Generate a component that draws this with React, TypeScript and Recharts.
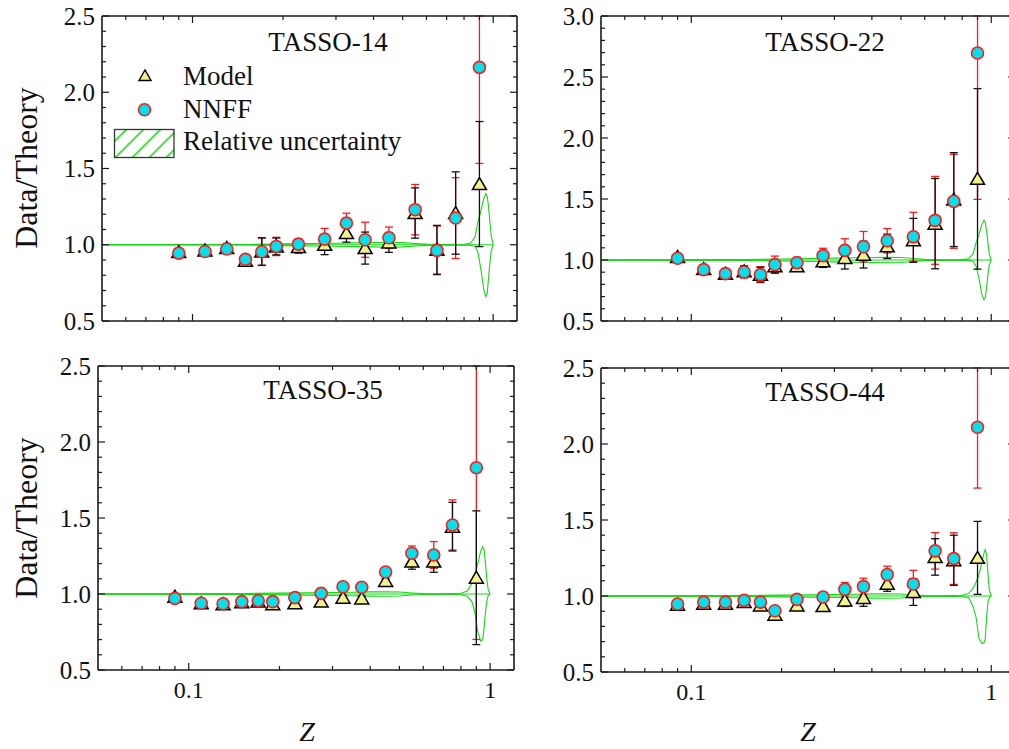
import React from 'react';
import { ComposedChart, Scatter, Line, XAxis, YAxis, ErrorBar } from 'recharts';

// ---------- data ----------
const zValues = [0.09, 0.11, 0.13, 0.15, 0.17, 0.19, 0.225, 0.275, 0.325, 0.375, 0.45, 0.55, 0.65, 0.75, 0.9];

const nnff14 = [0.945, 0.956, 0.972, 0.904, 0.954, 0.989, 1.004, 1.037, 1.142, 1.033, 1.046, 1.23, 0.963, 1.175, 2.163];
const nnffErr14 = [0.012, 0.012, 0.015, 0.03, 0.09, 0.06, 0.033, 0.07, 0.065, 0.115, 0.07, 0.165, 0.16, 0.265, 0.63];
const model14 = [0.952, 0.963, 0.978, 0.895, 0.956, 0.989, 0.985, 1.0, 1.077, 0.978, 1.015, 1.208, 0.967, 1.208, 1.398];
const modelErr14 = [0.02, 0.02, 0.03, 0.025, 0.09, 0.055, 0.04, 0.065, 0.06, 0.105, 0.065, 0.165, 0.16, 0.27, 0.41];

const nnff22 = [1.014, 0.921, 0.888, 0.902, 0.88, 0.962, 0.978, 1.036, 1.079, 1.109, 1.158, 1.191, 1.325, 1.481, 2.697];
const nnffErr22 = [0.01, 0.015, 0.015, 0.05, 0.065, 0.07, 0.045, 0.06, 0.095, 0.125, 0.1, 0.2, 0.36, 0.385, 1.2];
const model22 = [1.025, 0.926, 0.888, 0.907, 0.88, 0.948, 0.948, 0.989, 1.016, 1.044, 1.112, 1.161, 1.298, 1.495, 1.665];
const modelErr22 = [0.01, 0.015, 0.015, 0.045, 0.06, 0.055, 0.03, 0.05, 0.09, 0.11, 0.1, 0.18, 0.37, 0.385, 0.74];

const nnff35 = [0.971, 0.939, 0.936, 0.95, 0.956, 0.95, 0.976, 1.004, 1.048, 1.044, 1.145, 1.268, 1.257, 1.454, 1.831];
const nnffErr35 = [0.01, 0.012, 0.012, 0.012, 0.015, 0.015, 0.02, 0.02, 0.015, 0.015, 0.015, 0.048, 0.088, 0.165, 1.13];
const model35 = [0.982, 0.939, 0.932, 0.945, 0.95, 0.932, 0.939, 0.95, 0.976, 0.971, 1.086, 1.213, 1.213, 1.443, 1.107];
const modelErr35 = [0.01, 0.012, 0.012, 0.012, 0.012, 0.015, 0.02, 0.02, 0.015, 0.015, 0.015, 0.05, 0.07, 0.16, 0.44];

const nnff44 = [0.947, 0.96, 0.96, 0.971, 0.96, 0.903, 0.978, 0.993, 1.044, 1.062, 1.141, 1.079, 1.297, 1.246, 2.11];
const nnffErr44 = [0.01, 0.012, 0.012, 0.015, 0.02, 0.015, 0.02, 0.03, 0.045, 0.055, 0.055, 0.09, 0.12, 0.17, 0.4];
const model44 = [0.943, 0.949, 0.949, 0.96, 0.938, 0.877, 0.938, 0.934, 0.971, 0.987, 1.081, 1.026, 1.257, 1.235, 1.251];
const modelErr44 = [0.01, 0.012, 0.012, 0.015, 0.02, 0.015, 0.02, 0.03, 0.04, 0.055, 0.05, 0.088, 0.12, 0.165, 0.24];

// relative uncertainty band
const bandZ = [0.05, 0.15, 0.2, 0.25, 0.3, 0.35, 0.4, 0.45, 0.5, 0.55, 0.6, 0.7, 0.8, 0.84, 0.87, 0.89, 0.91, 0.93, 0.945, 0.955, 0.965, 0.975, 0.985, 1.0];
const bandHi14 = [1.002, 1.002, 1.006, 1.008, 1.01, 1.012, 1.014, 1.016, 1.014, 1.008, 1.004, 1.002, 1.003, 1.01, 1.05, 1.15, 1.22, 1.3, 1.335, 1.32, 1.25, 1.15, 1.06, 1.0];
const bandLo14 = [0.998, 0.998, 0.994, 0.992, 0.99, 0.988, 0.986, 0.984, 0.986, 0.992, 0.996, 0.998, 0.997, 0.997, 0.99, 0.95, 0.84, 0.71, 0.66, 0.68, 0.78, 0.88, 0.96, 1.0];
const bandHi22 = [1.002, 1.003, 1.008, 1.012, 1.015, 1.018, 1.02, 1.022, 1.02, 1.012, 1.005, 1.002, 1.003, 1.01, 1.05, 1.14, 1.21, 1.29, 1.325, 1.31, 1.24, 1.14, 1.05, 1.0];
const bandLo22 = [0.998, 0.997, 0.992, 0.988, 0.985, 0.982, 0.98, 0.978, 0.98, 0.988, 0.995, 0.998, 0.997, 0.997, 0.99, 0.95, 0.85, 0.72, 0.675, 0.69, 0.78, 0.88, 0.96, 1.0];
const bandHi35 = [1.002, 1.003, 1.006, 1.008, 1.01, 1.012, 1.014, 1.015, 1.013, 1.007, 1.003, 1.002, 1.005, 1.02, 1.07, 1.13, 1.2, 1.28, 1.31, 1.29, 1.2, 1.1, 1.03, 1.0];
const bandLo35 = [0.998, 0.997, 0.994, 0.992, 0.99, 0.988, 0.986, 0.985, 0.987, 0.993, 0.997, 0.998, 0.995, 0.985, 0.95, 0.88, 0.75, 0.69, 0.7, 0.78, 0.88, 0.95, 0.99, 1.0];
const bandHi44 = [1.002, 1.003, 1.006, 1.008, 1.01, 1.012, 1.014, 1.015, 1.013, 1.007, 1.003, 1.002, 1.005, 1.016, 1.05, 1.09, 1.14, 1.22, 1.28, 1.305, 1.27, 1.15, 1.04, 1.0];
const bandLo44 = [0.998, 0.997, 0.994, 0.992, 0.99, 0.988, 0.986, 0.985, 0.987, 0.993, 0.997, 0.998, 0.995, 0.99, 0.93, 0.86, 0.72, 0.69, 0.69, 0.72, 0.86, 0.96, 0.99, 1.0];
const bandCentre = [1, 1, 1, 1, 1, 1, 1, 1, 1, 1, 1, 1, 1, 1, 1, 1, 1, 1, 1, 1, 1, 1, 1, 1];

// ticks
const xTicks = [0.06, 0.07, 0.08, 0.09, 0.1, 0.2, 0.3, 0.4, 0.5, 0.6, 0.7, 0.8, 0.9, 1];
const xMajor = [0.1, 1];
const yTicks25 = [0.5, 0.6, 0.7, 0.8, 0.9, 1.0, 1.1, 1.2, 1.3, 1.4, 1.5, 1.6, 1.7, 1.8, 1.9, 2.0, 2.1, 2.2, 2.3, 2.4, 2.5];
const yTicks30 = [0.5, 0.6, 0.7, 0.8, 0.9, 1.0, 1.1, 1.2, 1.3, 1.4, 1.5, 1.6, 1.7, 1.8, 1.9, 2.0, 2.1, 2.2, 2.3, 2.4, 2.5, 2.6, 2.7, 2.8, 2.9, 3.0];

// ---------- styling ----------
const FONT = "'Liberation Serif', 'Times New Roman', Times, serif";
const GREEN = '#16d816';
const FRAME = '#1a1a1a';
const RED = '#ff1a1a';
const CYAN = '#00e1ec';
const YELLOW = '#f6f08a';

const isYMajor = (v: number) => Math.abs(v * 2 - Math.round(v * 2)) < 1e-6;
const isXMajor = (v: number) => xMajor.some((m) => Math.abs(m - v) < 1e-9);

function makeTick(side: 'left' | 'right' | 'top' | 'bottom', showLabel: boolean) {
  return (props: any) => {
    const { x, y, payload } = props;
    const v = payload.value as number;
    const major = side === 'left' || side === 'right' ? isYMajor(v) : isXMajor(v);
    const len = major ? 7 : 4;
    let l: any;
    if (side === 'left') l = { x1: x, y1: y, x2: x + len, y2: y };
    else if (side === 'right') l = { x1: x, y1: y, x2: x - len, y2: y };
    else if (side === 'top') l = { x1: x, y1: y, x2: x, y2: y + len };
    else l = { x1: x, y1: y, x2: x, y2: y - len };
    let label = null;
    if (showLabel && major) {
      if (side === 'left') {
        label = (
          <text x={x - 7} y={y} dy="0.34em" textAnchor="end" style={{ fontFamily: FONT }} fontSize={25} fill="#111">
            {v.toFixed(1)}
          </text>
        );
      } else if (side === 'bottom') {
        label = (
          <text x={x} y={y + 28} textAnchor="middle" style={{ fontFamily: FONT }} fontSize={24} fill="#111">
            {v === 1 ? '1' : String(v)}
          </text>
        );
      }
    }
    return (
      <g>
        <line {...l} stroke={FRAME} strokeWidth={1.2} />
        {label}
      </g>
    );
  };
}

const TriangleShape = (p: any) => {
  const { cx, cy } = p;
  if (cx == null || cy == null) return <g />;
  return (
    <polygon
      points={`${cx},${cy - 6.5} ${cx - 7},${cy + 5.5} ${cx + 7},${cy + 5.5}`}
      fill={YELLOW}
      stroke="#000"
      strokeWidth={1.5}
    />
  );
};

const CircleShape = (p: any) => {
  const { cx, cy } = p;
  if (cx == null || cy == null) return <g />;
  return <circle cx={cx} cy={cy} r={6} fill={CYAN} stroke={RED} strokeWidth={1.6} />;
};

const EmptyShape = () => <g />;

type PanelProps = {
  left: number;
  top: number;
  width: number;
  height: number;
  margin: { top: number; left: number; right: number; bottom: number };
  yMax: number;
  yTicks: number[];
  showXLabels: boolean;
  model: number[];
  modelErr: number[];
  nnff: number[];
  nnffErr: number[];
  bandHi: number[];
  bandLo: number[];
};

function Panel(props: PanelProps) {
  const { left, top, width, height, margin, yMax, yTicks, showXLabels, model, modelErr, nnff, nnffErr, bandHi, bandLo } = props;
  // error bars end at the frame, as in the reference (the plot window clips them)
  const modelData = zValues.map((z, i) => ({ z, v: model[i], e: [modelErr[i], Math.min(modelErr[i], yMax - model[i])] }));
  const nnffData = zValues.map((z, i) => ({ z, v: nnff[i], e: [nnffErr[i], Math.min(nnffErr[i], yMax - nnff[i])] }));
  const bandData = bandZ.map((z, i) => ({ z, hi: bandHi[i], lo: bandLo[i], mid: bandCentre[i] }));
  const axisLine = { stroke: FRAME, strokeWidth: 1.6 };
  const xCommon = {
    dataKey: 'z',
    type: 'number' as const,
    scale: 'log' as const,
    domain: [0.05, 1.2],
    allowDataOverflow: true,
    ticks: xTicks,
    interval: 0,
    height: 1,
    tickSize: 0,
    tickMargin: 0,
    tickLine: false,
    axisLine,
  };
  const yCommon = {
    type: 'number' as const,
    domain: [0.5, yMax],
    allowDataOverflow: true,
    ticks: yTicks,
    interval: 0,
    width: 1,
    tickSize: 0,
    tickMargin: 0,
    tickLine: false,
    axisLine,
  };
  return (
    <div style={{ position: 'absolute', left, top }}>
      <ComposedChart width={width} height={height} margin={margin}>
        <XAxis xAxisId="b" orientation="bottom" {...xCommon} tick={makeTick('bottom', showXLabels)} />
        <XAxis xAxisId="t" orientation="top" {...xCommon} tick={makeTick('top', false)} />
        <YAxis yAxisId="l" orientation="left" {...yCommon} tick={makeTick('left', true)} />
        <YAxis yAxisId="r" orientation="right" {...yCommon} tick={makeTick('right', false)} />

        <Line xAxisId="b" yAxisId="l" data={bandData} dataKey="mid" stroke={GREEN} strokeWidth={1.2} dot={false} activeDot={false} isAnimationActive={false} />
        <Line xAxisId="b" yAxisId="l" data={bandData} dataKey="hi" stroke={GREEN} strokeWidth={1.1} dot={false} activeDot={false} isAnimationActive={false} />
        <Line xAxisId="b" yAxisId="l" data={bandData} dataKey="lo" stroke={GREEN} strokeWidth={1.1} dot={false} activeDot={false} isAnimationActive={false} />

        <Scatter xAxisId="b" yAxisId="l" data={nnffData} dataKey="v" shape={EmptyShape} isAnimationActive={false}>
          <ErrorBar dataKey="e" direction="y" width={4} stroke={RED} strokeWidth={1.3} />
        </Scatter>
        <Scatter xAxisId="b" yAxisId="l" data={modelData} dataKey="v" shape={TriangleShape} isAnimationActive={false}>
          <ErrorBar dataKey="e" direction="y" width={4} stroke="#111" strokeWidth={1.3} />
        </Scatter>
        <Scatter xAxisId="b" yAxisId="l" data={nnffData} dataKey="v" shape={CircleShape} isAnimationActive={false} />
      </ComposedChart>
    </div>
  );
}

function Overlay() {
  const txt = { style: { fontFamily: FONT }, fill: '#111' };
  return (
    <svg width={1009} height={749} style={{ position: 'absolute', left: 0, top: 0, pointerEvents: 'none' }}>
      <defs>
        <pattern id="hatch" patternUnits="userSpaceOnUse" width={12} height={12} patternTransform="rotate(45)">
          <line x1={1} y1={0} x2={1} y2={12} stroke={GREEN} strokeWidth={1.6} />
        </pattern>
      </defs>
      {/* titles */}
      <text x={328} y={51} textAnchor="middle" fontSize={27} {...txt}>TASSO-14</text>
      <text x={825} y={51} textAnchor="middle" fontSize={27} {...txt}>TASSO-22</text>
      <text x={323} y={399} textAnchor="middle" fontSize={27} {...txt}>TASSO-35</text>
      <text x={825} y={401} textAnchor="middle" fontSize={27} {...txt}>TASSO-44</text>

      {/* legend */}
      <polygon points="145,70 139,80.5 151,80.5" fill={YELLOW} stroke="#000" strokeWidth={1.4} />
      <text x={183} y={85} fontSize={27} {...txt}>Model</text>
      <circle cx={144.5} cy={109.7} r={6} fill={CYAN} stroke={RED} strokeWidth={1.6} />
      <text x={183} y={118} fontSize={27} {...txt}>NNFF</text>
      <rect x={114.5} y={129.5} width={59.5} height={28} fill="url(#hatch)" stroke="#333" strokeWidth={1.3} />
      <text x={183} y={150} fontSize={27} {...txt}>Relative uncertainty</text>

      {/* axis titles */}
      <text x={37} y={168} textAnchor="middle" fontSize={32} transform="rotate(-90 37 168)" {...txt}>Data/Theory</text>
      <text x={37} y={518} textAnchor="middle" fontSize={32} transform="rotate(-90 37 518)" {...txt}>Data/Theory</text>
      <text x={307} y={741} textAnchor="middle" fontSize={28} fontStyle="italic" {...txt}>Z</text>
      <text x={808} y={741} textAnchor="middle" fontSize={28} fontStyle="italic" {...txt}>Z</text>
    </svg>
  );
}

export default function App() {
  return (
    <div style={{ position: 'fixed', left: 0, top: 0, width: 1009, height: 749, overflow: 'hidden', background: '#fff' }}>
      <Panel
        left={0}
        top={0}
        width={540}
        height={345}
        margin={{ top: 15, left: 101, right: 22, bottom: 23 }}
        yMax={2.5}
        yTicks={yTicks25}
        showXLabels={false}
        model={model14}
        modelErr={modelErr14}
        nnff={nnff14}
        nnffErr={nnffErr14}
        bandHi={bandHi14}
        bandLo={bandLo14}
      />
      <Panel
        left={520}
        top={0}
        width={520}
        height={345}
        margin={{ top: 15, left: 80, right: 24, bottom: 23 }}
        yMax={3.0}
        yTicks={yTicks30}
        showXLabels={false}
        model={model22}
        modelErr={modelErr22}
        nnff={nnff22}
        nnffErr={nnffErr22}
        bandHi={bandHi22}
        bandLo={bandLo22}
      />
      <Panel
        left={0}
        top={350}
        width={540}
        height={385}
        margin={{ top: 15, left: 97, right: 25, bottom: 64 }}
        yMax={2.5}
        yTicks={yTicks25}
        showXLabels={true}
        model={model35}
        modelErr={modelErr35}
        nnff={nnff35}
        nnffErr={nnffErr35}
        bandHi={bandHi35}
        bandLo={bandLo35}
      />
      <Panel
        left={520}
        top={352}
        width={520}
        height={385}
        margin={{ top: 15, left: 80, right: 24, bottom: 64 }}
        yMax={2.5}
        yTicks={yTicks25}
        showXLabels={true}
        model={model44}
        modelErr={modelErr44}
        nnff={nnff44}
        nnffErr={nnffErr44}
        bandHi={bandHi44}
        bandLo={bandLo44}
      />
      <Overlay />
    </div>
  );
}
